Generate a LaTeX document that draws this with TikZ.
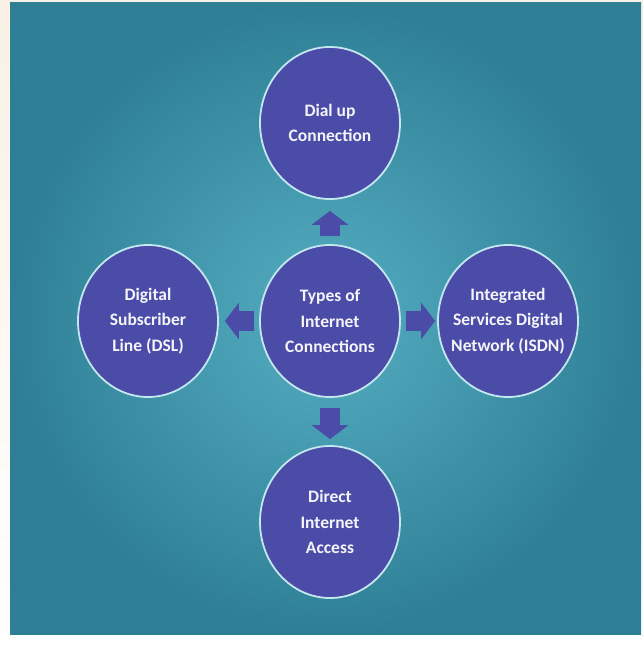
\documentclass[tikz,border=0pt]{standalone}
\usepackage{fontspec}
\setmainfont{Carlito}
\usetikzlibrary{arrows.meta,shapes.geometric}
\definecolor{tbg}{HTML}{2E7F96}
\definecolor{tbgl}{HTML}{55AEC1}
\definecolor{tcream}{HTML}{FAF0E4}
\definecolor{tnode}{HTML}{4A4CA8}
\definecolor{trim}{HTML}{C4E6EE}
\tikzset{
  % indigo bubble with a pale cyan rim; negative sep keeps wide lines from growing it
  bub/.style = {ellipse, draw=trim, line width=1.8pt, fill=tnode, text=white!94!tnode,
                align=center, font=\fontsize{17.5}{25.5}\selectfont\bfseries,
                minimum width=140pt, minimum height=152pt, inner sep=-15pt},
  fat/.style = {-{Triangle[length=14pt,width=36pt]}, line width=20pt, tnode},
}

\begin{document}
\begin{tikzpicture}[x=1pt,y=-1pt]
\useasboundingbox (0,0) rectangle (643,650);
\shade[top color=tcream, bottom color=white] (0,0) rectangle (643,650);
\shade[inner color=tbgl, outer color=tbg] (10,3) rectangle (641,634);
\node[bub] (hub)  at (330,321) {Types of\\Internet\\Connections};
\node[bub] (dial) at (330,123) {Dial up\\Connection};
\node[bub] (dsl)  at (148,321) {Digital\\Subscriber\\Line (DSL)};
\node[bub] (isdn) at (508,321) {Integrated\\Services Digital\\Network (ISDN)};
\node[bub] (dia)  at (330,522) {Direct\\Internet\\Access};
\draw[fat, shorten <=8pt, shorten >=11pt] (hub) -- (dial);
\draw[fat, shorten <=5pt, shorten >=6pt] (hub) -- (dsl);
\draw[fat, shorten <=5pt, shorten >=2pt] (hub) -- (isdn);
\draw[fat, shorten <=10pt, shorten >=6pt] (hub) -- (dia);
\end{tikzpicture}
\end{document}
